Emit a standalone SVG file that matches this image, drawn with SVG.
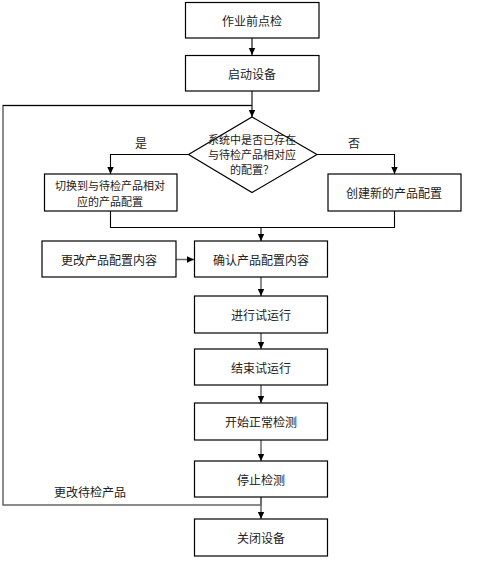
<svg xmlns="http://www.w3.org/2000/svg" width="490" height="582" viewBox="0 0 490 582">
<defs>
<marker id="ah" markerWidth="8" markerHeight="8" refX="7" refY="4" orient="auto" markerUnits="userSpaceOnUse">
<path d="M0,0.8 L7,4 L0,7.2 Z" fill="#000"/>
</marker>
<style>
.box{fill:#fff;stroke:#000;stroke-width:1.2}
.t{font-family:"Noto Sans CJK SC","Noto Sans",sans-serif;font-size:12px;fill:#222;text-anchor:middle;dominant-baseline:central}
.s{font-size:11px}
.c{fill:none;stroke:#000;stroke-width:1.1}
.g{fill:none;stroke:#666;stroke-width:1.5}
</style>
</defs>
<rect width="490" height="582" fill="#fff"/>
<g id="connectors">
<path class="c" d="M252,38 V55" marker-end="url(#ah)"/>
<path class="c" d="M252,91 V117" marker-end="url(#ah)"/>
<path class="g" d="M261,497 V505 H3 V105.5 H252"/>
<path class="c" d="M3,105.5 H252"/>
<path class="c" d="M189,154.5 H110.5 V174" marker-end="url(#ah)"/>
<path class="c" d="M317,154.5 H394.5 V174" marker-end="url(#ah)"/>
<path class="c" d="M110.5,211 V227.5 H394.5 V211"/>
<path class="c" d="M261,227.5 V241" marker-end="url(#ah)"/>
<path class="g" d="M176,259.5 H194" marker-end="url(#ah)"/>
<path class="g" d="M261,277 V296" marker-end="url(#ah)"/>
<path class="g" d="M261,333 V349" marker-end="url(#ah)"/>
<path class="g" d="M261,385 V403" marker-end="url(#ah)"/>
<path class="g" d="M261,440 V461" marker-end="url(#ah)"/>
<path class="g" d="M261,497 V519" marker-end="url(#ah)"/>
<text class="t" x="141" y="142">是</text>
<text class="t" x="354" y="142">否</text>
<text class="t" x="90" y="491">更改待检产品</text>
</g>
<g id="n1"><rect class="box" x="185.5" y="2.5" width="133.5" height="35.5"/><text class="t" x="252" y="20">作业前点检</text></g>
<g id="n2"><rect class="box" x="185.5" y="55.5" width="133.5" height="35.5"/><text class="t" x="252" y="73">启动设备</text></g>
<g id="n3"><path class="box" d="M252,117 L317,154.5 L252,192.5 L188.5,154.5 Z"/>
<text class="t s" x="252" y="138.5">系统中是否已存在</text>
<text class="t s" x="252" y="153.5">与待检产品相对应</text>
<text class="t s" x="252" y="168.5">的配置？</text></g>
<g id="n4"><rect class="box" x="44.5" y="174" width="132.5" height="37"/>
<text class="t s" x="110" y="185">切换到与待检产品相对</text>
<text class="t s" x="110" y="201">应的产品配置</text></g>
<g id="n5"><rect class="box" x="328" y="174" width="133" height="37"/><text class="t" x="394" y="192.5">创建新的产品配置</text></g>
<g id="n6"><rect class="box" x="42" y="241" width="134" height="36"/><text class="t" x="109" y="259">更改产品配置内容</text></g>
<g id="n7"><rect class="box" x="194.5" y="241" width="133" height="36"/><text class="t" x="261" y="259">确认产品配置内容</text></g>
<g id="n8"><rect class="box" x="194.5" y="296" width="133" height="37"/><text class="t" x="261" y="314.5">进行试运行</text></g>
<g id="n9"><rect class="box" x="194.5" y="349" width="133" height="36"/><text class="t" x="261" y="367">结束试运行</text></g>
<g id="n10"><rect class="box" x="194.5" y="403" width="133" height="37"/><text class="t" x="261" y="421.5">开始正常检测</text></g>
<g id="n11"><rect class="box" x="194.5" y="461" width="133" height="36"/><text class="t" x="261" y="479">停止检测</text></g>
<g id="n12"><rect class="box" x="194.5" y="519" width="133" height="37"/><text class="t" x="261" y="537.5">关闭设备</text></g>
</svg>
